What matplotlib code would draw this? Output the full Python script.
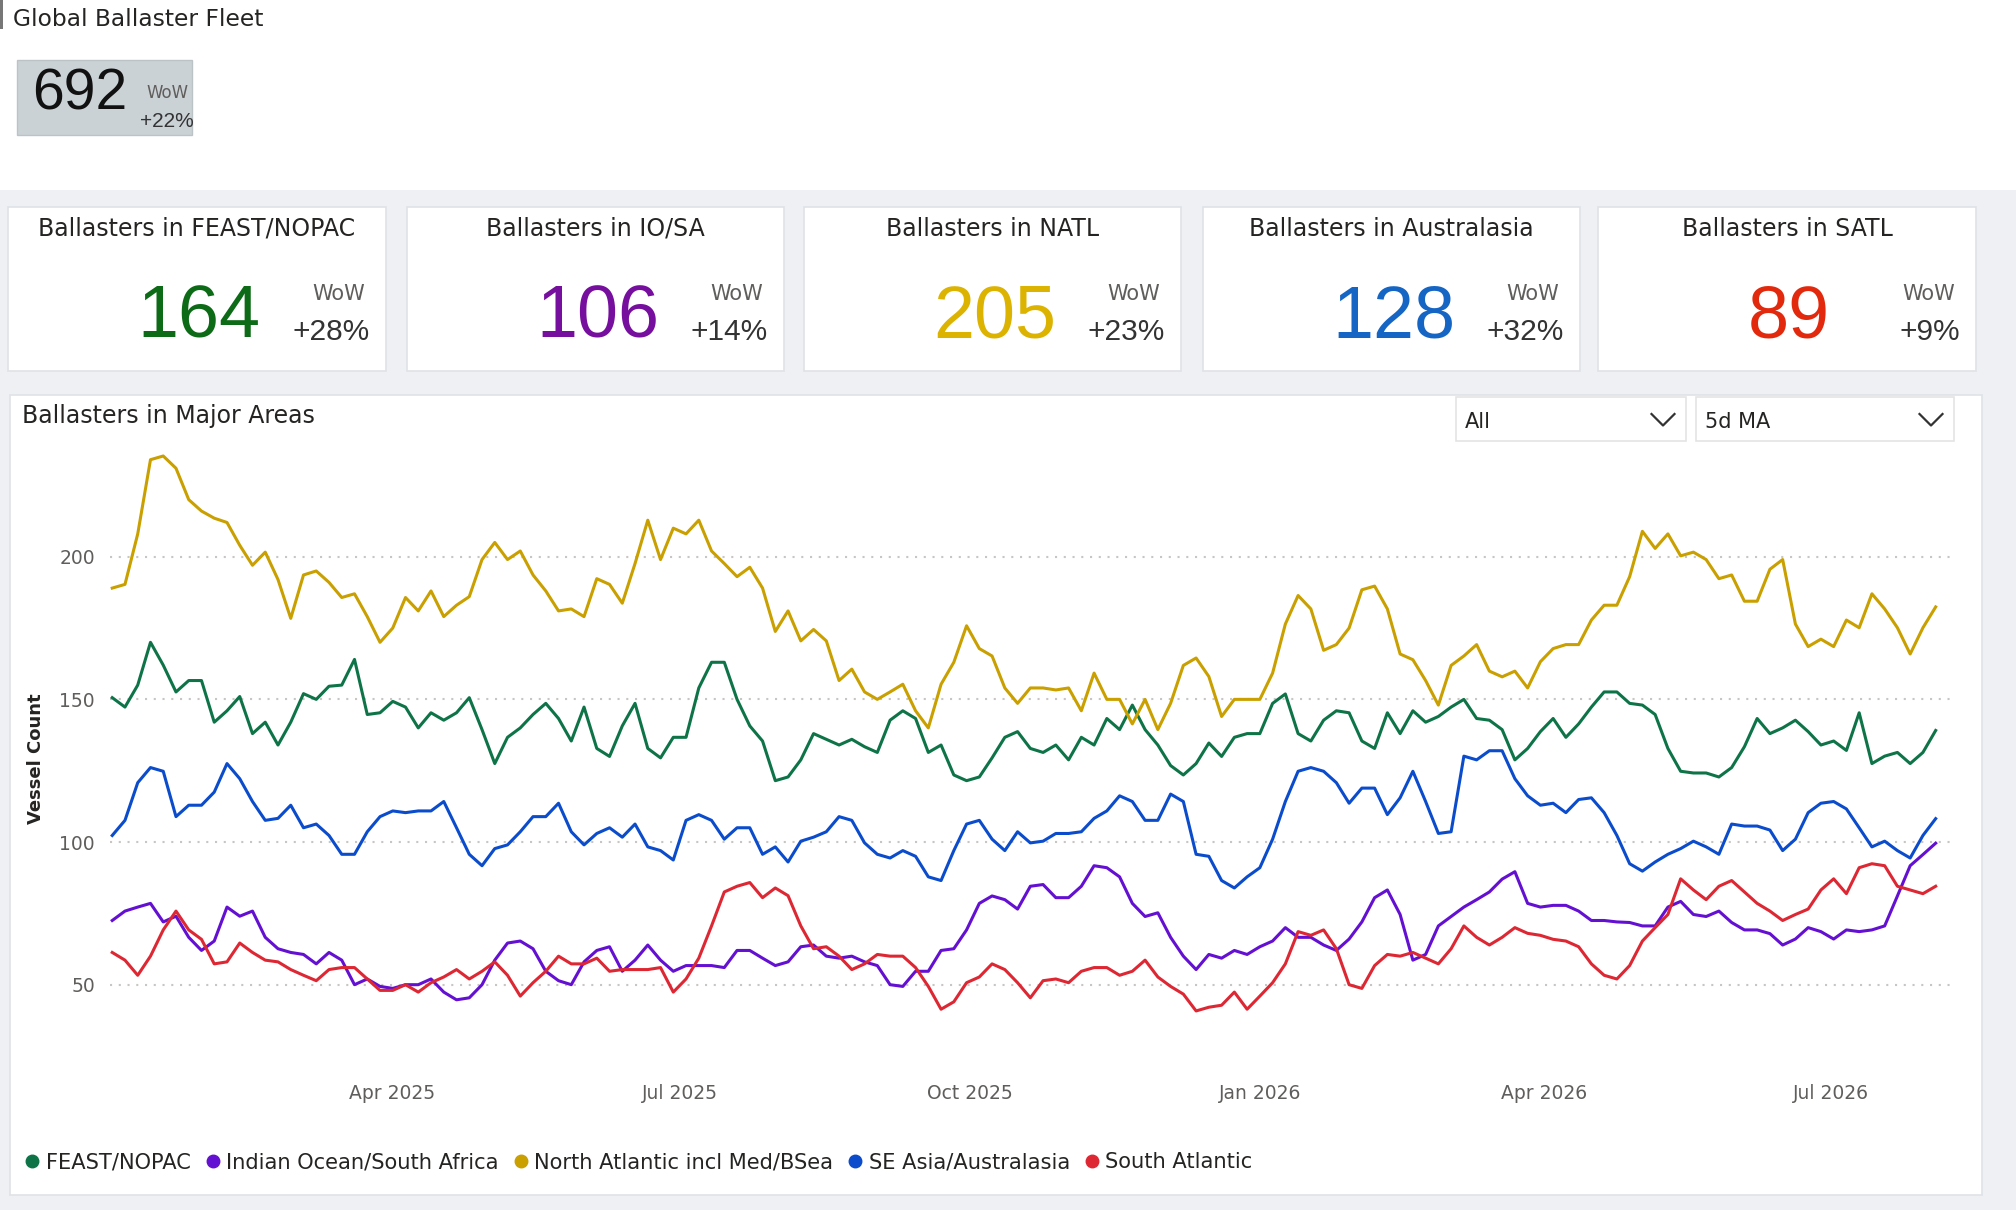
import matplotlib
matplotlib.use('Agg')
import matplotlib.pyplot as plt
from matplotlib.patches import Rectangle
from matplotlib.lines import Line2D
import pandas as pd
from datetime import datetime

# ---------------- data ----------------
dates = pd.date_range('2025-01-02 04:00', periods=144, freq='97h')

feast = [150.6, 147.3, 155, 170, 162, 152.6, 156.6, 156.6, 142, 146, 151, 138, 142, 134, 142, 152, 150,
         154.6, 155, 164, 144.7, 145.3, 149.3, 147.3, 140, 145.3, 142.7, 145.3, 150.6, 139.4, 127.5, 136.7,
         140, 144.7, 148.6, 143.3, 135.4,
         147.3, 132.8, 130, 140.7, 148.6, 132.8, 129.5, 136.7, 136.7, 154, 163, 163, 150, 140.7, 135.4,
         121.5, 122.8, 128.8, 138, 136, 134, 136, 133.4, 131.4, 142.7, 146, 143.3, 131.4, 134, 123.5,
         121.5, 122.8, 129.5, 136.7, 138.7, 132.8,
         131.4, 134, 128.8, 136.7, 134, 143.3, 139.4, 148, 139.4, 134, 126.8, 123.5, 127.5, 134.7, 130,
         136.7, 138, 138, 148.6, 151.9, 138, 135.4, 142.7, 146, 145.3, 135.4, 132.8, 145.3, 138, 146, 142,
         144, 147.3, 150, 143.3, 142.7,
         139.4, 128.8, 132.8, 138.7, 143.3, 136.7, 141.4, 147.3, 152.6, 152.6, 148.6, 148, 144.7, 132.8,
         124.8, 124.2, 124.2, 122.8, 126.1, 133.4, 143.3, 138, 140, 142.7, 138.7, 134, 135.4, 132.1,
         145.3, 127.5, 130.1, 131.4, 127.5, 131.4, 139.1]

iosa = [72.5, 75.8, 77.2, 78.5, 72, 74, 66.6, 62, 65.3, 77.2, 74, 75.8, 66.6, 62.6, 61.3, 60.6, 57.3,
        61.3, 58.6, 50, 52, 49.4, 48.7, 50, 50, 52, 47.4, 44.7, 45.4, 50, 58.6, 64.6, 65.3, 62.6, 54.7,
        51.4, 50,
        58, 62, 63.3, 54.7, 58.6, 63.9, 58.6, 54.7, 56.7, 56.7, 56.7, 56, 62, 62, 59.3, 56.7, 58, 63.3,
        63.9, 60, 59.3, 60, 58, 56.7, 50, 49.4, 54.7, 54.7, 62, 62.6, 69.2, 78.5, 81.1, 79.8, 76.5, 84.5,
        85.1, 80.5, 80.5, 84.5, 91.7, 91, 87.8, 78.5, 73.9, 75.2, 66.6, 60, 55.3, 60.6, 59.3, 62, 60.6,
        63.3, 65.3, 70, 66.6, 66.6, 63.9, 62, 66, 72, 80.5, 83.2, 74.6, 58.6, 60.6, 70.6, 73.9, 77.2,
        79.8, 82.5,
        87, 89.6, 78.5, 77.2, 77.8, 77.8, 75.8, 72.5, 72.5, 72, 71.8, 70.6, 70.6, 77.2, 79.2, 74.6, 73.9,
        75.8, 71.8, 69.2, 69.2, 67.9, 63.9, 66, 70, 68.6, 66, 69.2, 68.6, 69.2, 70.6, 81.1, 91.7, 95.6,
        99.6]

natl = [189, 190.3, 208, 234, 235.3, 231, 220, 216, 213.5, 212, 204, 197, 201.6, 192, 178.4, 193.6, 195,
        191, 185.7, 187, 179, 170, 175, 185.7, 181, 188, 179, 183, 186, 199, 205, 199, 202, 193.6, 188,
        181, 181.7,
        179, 192.3, 190.3, 183.7, 197.6, 212.8, 199, 210, 208, 212.8, 202, 197.6, 193, 196.3, 189, 173.8,
        181, 170.5, 174.5, 170.5, 156.6, 160.6, 152.6, 150, 152.6, 155.3, 146, 140, 155.3, 163, 175.8,
        167.8, 165.2, 154, 148.6, 154,
        154, 153.3, 154, 146, 159.2, 150, 150, 141.4, 150, 139.4, 148.6, 161.9, 164.5, 158, 144, 150, 150,
        150, 159.2, 176.4, 186.4, 181.7, 167.2, 169.2, 175, 188.4, 189.7, 181.7, 165.9, 163.9, 156.6, 148,
        161.9, 165.2, 169.2, 159.9,
        157.9, 159.9, 154, 163.2, 167.8, 169.2, 169.2, 177.8, 183, 183, 193, 208.9, 202.9, 208, 200.3,
        201.6, 199, 192.3, 193.6, 184.4, 184.4, 195.6, 199, 176.4, 168.5, 171.1, 168.5, 177.8, 175.1, 187,
        181.7, 175.1, 165.9, 175.1, 182.4]

sea = [102.3, 107.6, 120.8, 126.1, 124.8, 108.9, 112.9, 112.9, 117.5, 127.5, 122.2, 114.2, 107.6, 108.3,
       112.9, 105, 106.3, 102.3, 95.7, 95.7, 103.6, 108.9, 110.9, 110.3, 110.9, 110.9, 114.2, 105, 95.7,
       91.7, 97.7, 99, 103.6, 108.9, 108.9, 113.6, 103.6,
       99, 103, 105, 101.7, 106.3, 98.3, 97, 93.7, 107.6, 109.6, 107.6, 101, 105, 105, 95.7, 98.3, 93,
       100.3, 101.7, 103.6, 108.9, 107.6, 99.7, 95.7, 94.4, 97, 95, 87.8, 86.5, 97, 106.3, 107.6, 101, 97,
       103.6, 99.7,
       100.3, 103, 103, 103.6, 108.3, 110.9, 116.2, 114.2, 107.6, 107.6, 116.8, 114.2, 95.7, 95, 86.5,
       83.9, 87.8, 91, 101, 114.2, 124.8, 126.1, 124.8, 120.8, 113.6, 118.9, 118.9, 109.6, 115.5, 124.8,
       114.2, 103, 103.6, 130.1, 128.8, 132,
       132, 122.2, 116.2, 112.9, 113.6, 110.3, 114.9, 115.5, 110.3, 102.3, 92.4, 89.8, 93, 95.7, 97.7,
       100.3, 98.3, 95.7, 106.3, 105.6, 105.6, 104.2, 97, 101, 110.3, 113.6, 114.2, 111.6, 105, 98.3,
       100.3, 97, 94.4, 102.3, 108.2]

satl = [61.3, 58.6, 53.3, 60, 69.2, 75.8, 69.2, 65.9, 57.3, 58, 64.6, 61.3, 58.6, 58, 55.3, 53.3, 51.4,
        55.3, 56, 56, 52, 48, 48, 50, 47.4, 50.7, 52.7, 55.3, 52, 54.7, 58, 53.3, 46, 50.7, 54.7, 60, 57.3,
        57.3, 59.3, 54.7, 55.3, 55.3, 55.3, 56, 47.4, 52, 59.3, 70.6, 82.5, 84.5, 85.8, 80.5, 83.9, 81.2,
        70.6, 62.6, 63.3, 60, 55.3, 57.3, 60.6, 60, 60, 56, 49.4, 41.4, 44, 50.7, 52.7, 57.3, 55.3, 50.7,
        45.4,
        51.4, 52, 50.7, 54.7, 56, 56, 53.3, 54.7, 58.6, 52.7, 49.4, 46.7, 40.8, 42.1, 42.8, 47.4, 41.4, 46,
        50.7, 57.3, 68.6, 67.3, 69.2, 62.6, 50, 48.7, 56.7, 60.6, 60, 61.3, 59.3, 57.3, 62.6, 70.6, 66.6,
        63.9,
        66.6, 70, 68, 67.3, 65.9, 65.3, 63.3, 57.3, 53.3, 52, 56.7, 65.3, 70, 74.6, 87.1, 83.2, 79.8, 84.5,
        86.5, 82.5, 78.5, 75.8, 72.5, 74.6, 76.5, 83.2, 87.1, 81.9, 91, 92.4, 91.7, 84.5, 83.2, 81.9, 84.5]

series_names = ['FEAST/NOPAC', 'Indian Ocean/South Africa', 'North Atlantic incl Med/BSea',
                'SE Asia/Australasia', 'South Atlantic']
series_values = [feast, iosa, natl, sea, satl]
series_colors = ['#0e7448', '#6410d2', '#c9a000', '#0b4ccc', '#dd2834']

x_ticks = [datetime(2025, 4, 1), datetime(2025, 7, 1), datetime(2025, 10, 1),
           datetime(2026, 1, 1), datetime(2026, 4, 1), datetime(2026, 7, 1)]
x_tick_labels = ['Apr 2025', 'Jul 2025', 'Oct 2025', 'Jan 2026', 'Apr 2026', 'Jul 2026']
y_ticks = [50, 100, 150, 200]

global_value = '692'
global_wow = '+22%'
card_titles = ['Ballasters in FEAST/NOPAC', 'Ballasters in IO/SA', 'Ballasters in NATL',
               'Ballasters in Australasia', 'Ballasters in SATL']
card_values = ['164', '106', '205', '128', '89']
card_wow = ['+28%', '+14%', '+23%', '+32%', '+9%']
card_colors = ['#0d6b17', '#760e9e', '#dcb300', '#1565c4', '#e3290d']

# ---------------- figure ----------------
W, H = 2016, 1210
fig = plt.figure(figsize=(W / 100, H / 100), dpi=100)
fig.patch.set_facecolor('white')

bg = fig.add_axes([0, 0, 1, 1], zorder=0)
bg.set_xlim(0, W)
bg.set_ylim(H, 0)
bg.axis('off')

TXT = '#252423'
GREY = '#605e5c'
NUMFONT = ['Liberation Sans', 'DejaVu Sans']

# page background
bg.add_patch(Rectangle((0, 190), W, H - 190, facecolor='#eef0f3', edgecolor='none'))
bg.add_patch(Rectangle((0, 0), 2.5, 29, facecolor='#777777', edgecolor='none'))

# global KPI
bg.text(13, 26, 'Global Ballaster Fleet', fontsize=16.8, color=TXT, ha='left', va='baseline')
bg.add_patch(Rectangle((16.5, 60), 175.5, 75, facecolor='#cbd2d6', edgecolor='#bcc3c7', lw=1))
bg.text(79.5, 110, global_value, fontsize=41, color='#111111', ha='center', va='baseline', family=NUMFONT)
bg.text(168, 98, 'WoW', fontsize=12, color=GREY, ha='center', va='baseline')
bg.text(194, 127, global_wow, fontsize=15, color='#333333', ha='right', va='baseline', family=NUMFONT)

# KPI cards
card_x = [(8, 386), (407, 784), (804, 1181), (1203, 1580), (1598, 1976)]
for (x0, x1), title, val, wow, col in zip(card_x, card_titles, card_values, card_wow, card_colors):
    bg.add_patch(Rectangle((x0, 207), x1 - x0, 164, facecolor='white', edgecolor='#dfe2e6', lw=1.2))
    cx = (x0 + x1) / 2
    bg.text(cx, 236, title, fontsize=17, color=TXT, ha='center', va='baseline')
    bg.text(cx + 2, 338, val, fontsize=53, color=col, ha='center', va='baseline', family=NUMFONT)
    bg.text(x1 - 21, 300, 'WoW', fontsize=15, color=GREY, ha='right', va='baseline')
    bg.text(x1 - 16, 340, wow, fontsize=21.5, color='#333333', ha='right', va='baseline', family=NUMFONT)

# chart panel
bg.add_patch(Rectangle((10, 395), 1972, 800, facecolor='white', edgecolor='#dfe2e6', lw=1.2))
bg.text(22, 423, 'Ballasters in Major Areas', fontsize=17, color=TXT, ha='left', va='baseline')

# slicers
for (x0, x1), label in zip([(1456, 1686), (1696, 1954)], ['All', '5d MA']):
    bg.add_patch(Rectangle((x0, 397), x1 - x0, 44, facecolor='white', edgecolor='#e4e4e4', lw=1.2))
    bg.text(x0 + 9, 428, label, fontsize=15, color=TXT, ha='left', va='baseline')
    cxv = x1 - 23
    bg.add_line(Line2D([cxv - 11.5, cxv, cxv + 11.5], [414, 425.5, 414], color='#333333', lw=1.6))

bg.text(36, 759, 'Vessel Count', rotation=90, fontsize=13, fontweight='bold', color=TXT,
        ha='center', va='center')

# line chart
L, R, T, B = 110, 1952, 450, 1072
ax = fig.add_axes([L / W, 1 - B / H, (R - L) / W, (B - T) / H], zorder=2)
ax.set_facecolor('none')
for vals, col, name in zip(series_values, series_colors, series_names):
    ax.plot(dates, vals, color=col, lw=2.2, solid_joinstyle='round', label=name)

t0 = pd.Timestamp('2025-01-01')
ax.set_xlim(t0 + pd.Timedelta(days=0.46), t0 + pd.Timedelta(days=584.3))
ax.set_ylim(19.4, 237.4)
ax.set_yticks(y_ticks)
ax.set_yticklabels([str(v) for v in y_ticks])
ax.set_xticks(x_ticks)
ax.set_xticklabels(x_tick_labels)
ax.tick_params(axis='both', length=0, labelsize=13.5, labelcolor=GREY)
ax.tick_params(axis='y', pad=10.8)
ax.tick_params(axis='x', pad=8.6)
for s in ax.spines.values():
    s.set_visible(False)
ax.yaxis.grid(True, linestyle=(0, (1, 3.2)), lw=1.5, color='#c8c6c4')
ax.xaxis.grid(False)
ax.set_axisbelow(True)

handles = [Line2D([], [], marker='o', linestyle='', markersize=9, color=c) for c in series_colors]
fig.legend(handles, series_names, loc='center left', bbox_to_anchor=(24 / W, 1 - 1162 / H),
           ncol=5, frameon=False, fontsize=15.1, handlelength=0.8, handletextpad=0.25,
           columnspacing=0.64, borderpad=0, borderaxespad=0, labelcolor=TXT)

fig.savefig('out.png', dpi=100, facecolor=fig.get_facecolor())
